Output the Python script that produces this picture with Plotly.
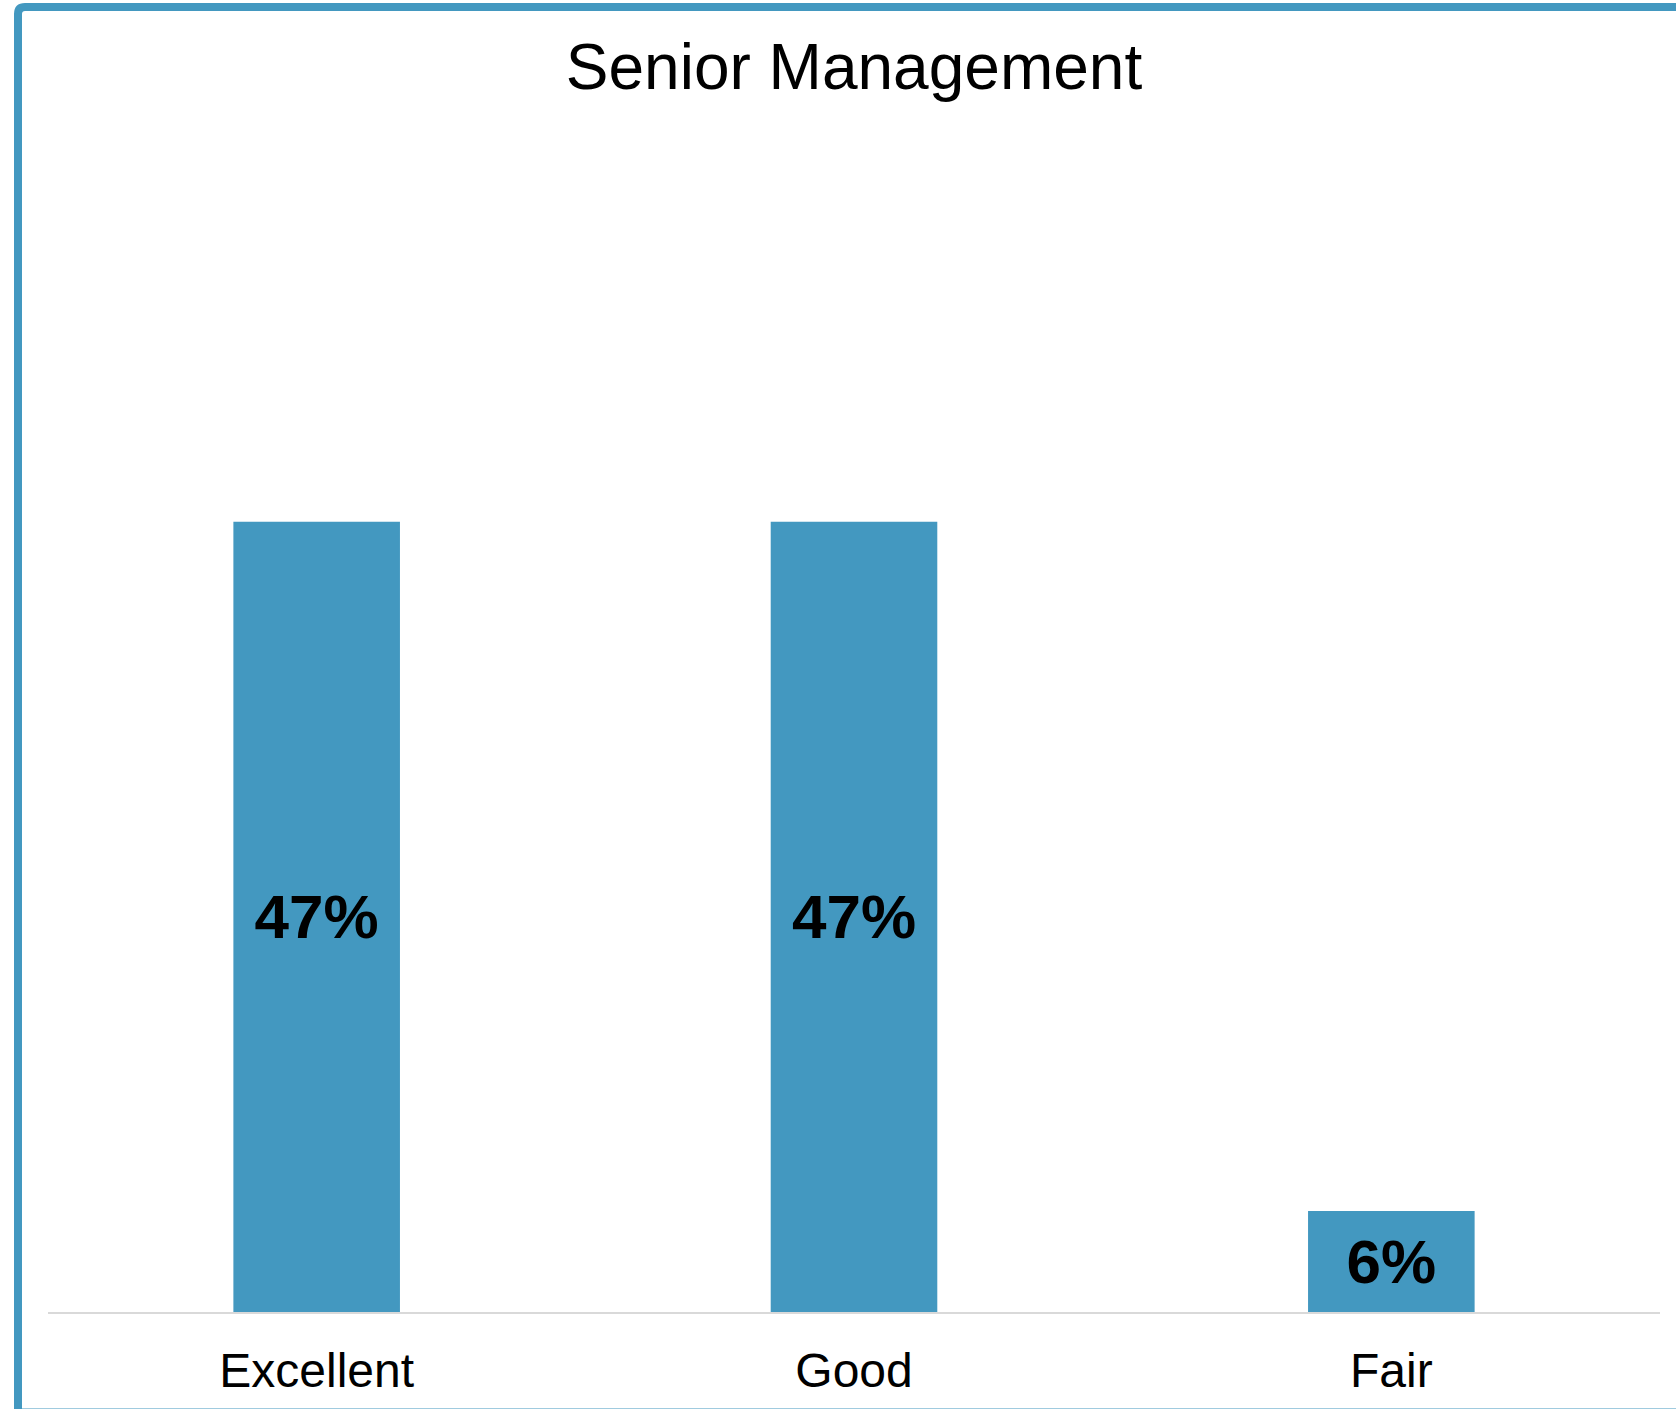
import plotly.graph_objects as go

# Survey results: rating of senior management
categories = ["Excellent", "Good", "Fair"]
shares = [47, 47, 6]
labels = ["47%", "47%", "6%"]

W, H = 1676, 1409
M_L, M_R, M_T, M_B = 48, 16, 135, 97
plot_w = W - M_L - M_R
plot_h = H - M_T - M_B

BLUE = "#4398C0"
FONT = "Liberation Sans, Arial, sans-serif"


def px_x(x):
    return (x - M_L) / plot_w


def px_y(y):
    return (H - M_B - y) / plot_h


fig = go.Figure(
    go.Bar(
        x=categories,
        y=shares,
        text=labels,
        marker=dict(color=BLUE, line=dict(width=0)),
        textposition="inside",
        insidetextanchor="middle",
        textangle=0,
        textfont=dict(family=FONT, size=62, color="black", weight="bold"),
        cliponaxis=False,
    )
)

# Frame with rounded top-left corner running off the right and bottom edges
r = 7
x0, y0 = 18, 7
x1, y1 = 1690, 1412.5
frame = (
    f"M {px_x(x0)},{px_y(y1)} "
    f"L {px_x(x0)},{px_y(y0 + r)} "
    f"Q {px_x(x0)},{px_y(y0)} {px_x(x0 + r)},{px_y(y0)} "
    f"L {px_x(x1)},{px_y(y0)} "
    f"L {px_x(x1)},{px_y(y1)} Z"
)
fig.add_shape(
    type="path",
    path=frame,
    xref="paper",
    yref="paper",
    line=dict(color=BLUE, width=8),
    layer="above",
)

fig.update_layout(
    width=W,
    height=H,
    margin=dict(l=M_L, r=M_R, t=M_T, b=M_B),
    paper_bgcolor="white",
    plot_bgcolor="white",
    showlegend=False,
    bargap=0.69,
    title=dict(
        text="Senior Management",
        x=0.5,
        xref="paper",
        xanchor="center",
        y=1 - 89 / H,
        yref="container",
        yanchor="bottom",
        font=dict(family=FONT, size=64, color="black"),
    ),
    xaxis=dict(
        showline=True,
        linecolor="#D9D9D9",
        linewidth=2,
        showgrid=False,
        ticks="",
        tickfont=dict(family=FONT, size=48, color="black"),
        ticklabelstandoff=15,
        fixedrange=True,
    ),
    yaxis=dict(
        range=[0, 70],
        visible=False,
        showgrid=False,
        zeroline=False,
        fixedrange=True,
    ),
)

fig.write_html("out.html", config={"displayModeBar": False})
